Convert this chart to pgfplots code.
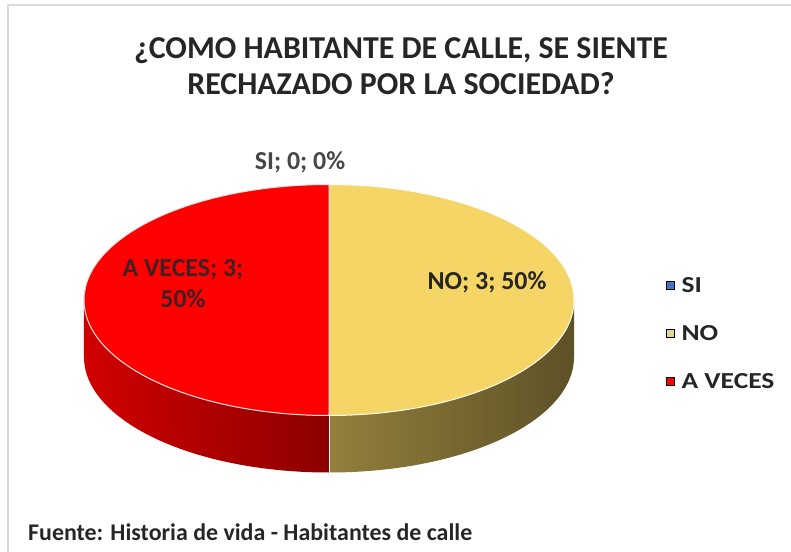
\documentclass[border=0pt]{standalone}
\usepackage{pgfplots}
\usepackage{pgfplotstable}
\pgfplotsset{compat=1.18}
\usepackage{fontspec}
\setmainfont{Carlito}
\newfontfamily\legfont[FakeStretch=1.2]{Carlito}
\definecolor{siblue}{HTML}{4472C4}
\definecolor{noyel}{HTML}{F5D565}
\definecolor{noyelleg}{HTML}{E2D69A}
\definecolor{avred}{HTML}{FF0000}
\definecolor{txt}{HTML}{262626}
\definecolor{frame}{HTML}{D9D9D9}
\pgfplotstableread[col sep=comma]{
label,value
SI,0
NO,3
A VECES,3
}\piedata
\begin{document}
\begin{tikzpicture}
\pgfplotstablegetelem{0}{value}\of\piedata \let\vSI\pgfplotsretval
\pgfplotstablegetelem{1}{value}\of\piedata \let\vNO\pgfplotsretval
\pgfplotstablegetelem{2}{value}\of\piedata \let\vAV\pgfplotsretval
\pgfmathsetmacro{\tot}{\vSI+\vNO+\vAV}
% Excel start at 12 o'clock, clockwise
\pgfmathsetmacro{\aB}{90-360*\vSI/\tot}
\pgfmathsetmacro{\aC}{\aB-360*\vNO/\tot}
\pgfmathsetmacro{\aD}{\aC-360*\vAV/\tot}
\begin{axis}[
  x=1bp, y=1bp,
  xmin=0, xmax=791, ymin=0, ymax=552,
  hide axis, clip=false,
  legend style={at={(axis cs:666,219)}, anchor=west, draw=none, fill=none,
    inner sep=0pt,
    font=\bfseries\legfont\fontsize{23}{27}\selectfont, text=txt,
    nodes={inner sep=2bp, text height=15bp, text depth=0bp},
    row sep=29bp,
    /tikz/every odd column/.append style={column sep=5bp}},
  legend cell align=left,
  legend image code/.code={\fill[#1] (0bp,-4bp) rectangle (8bp,4bp);},
]
% frame lines
\draw[frame, line width=1.5bp] (axis cs:8,0) -- (axis cs:8,547) -- (axis cs:791,547);
% geometry
\def\cx{329}\def\cy{252}\def\rx{245bp}\def\ry{115.5bp}\def\dep{57bp}
% front side of A VECES (180..270)
\shade[left color=red!82!black, right color=red!55!black]
  (axis cs:\cx,\cy) ++(180:{\rx} and {\ry}) arc[start angle=180, end angle=270, x radius=\rx, y radius=\ry]
  -- ++(0,-\dep) arc[start angle=270, end angle=180, x radius=\rx, y radius=\ry] -- cycle;
% front side of NO (270..360)
\shade[left color=noyel!60!black, right color=noyel!38!black]
  (axis cs:\cx,\cy) ++(270:{\rx} and {\ry}) arc[start angle=270, end angle=360, x radius=\rx, y radius=\ry]
  -- ++(0,-\dep) arc[start angle=360, end angle=270, x radius=\rx, y radius=\ry] -- cycle;
\draw[white, line width=1bp] (axis cs:\cx,\cy) ++(0,-\ry) -- ++(0,-\dep);
% top faces
\fill[noyel, draw=white!90!noyel, line width=1bp] (axis cs:\cx,\cy) -- ++(\aB:{\rx} and {\ry})
  arc[start angle=\aB, end angle=\aC, x radius=\rx, y radius=\ry] -- cycle;
\fill[avred, draw=white!90!red, line width=1bp] (axis cs:\cx,\cy) -- ++(\aC:{\rx} and {\ry})
  arc[start angle=\aC, end angle=\aD, x radius=\rx, y radius=\ry] -- cycle;
% legend
\addlegendimage{fill=siblue}
\addlegendentry{SI}
\addlegendimage{fill=noyelleg}
\addlegendentry{NO}
\addlegendimage{fill=avred}
\addlegendentry{A VECES}
% data labels
\node[font=\bfseries\fontsize{26}{31}\selectfont, text=txt!85!white] at (axis cs:300,390) {SI; \vSI; 0\%};
\node[font=\bfseries\fontsize{26}{31}\selectfont, text=txt] at (axis cs:487,270) {NO; \vNO; 50\%};
\node[font=\bfseries\fontsize{26}{31}\selectfont, text=txt!88!red, align=center] at (axis cs:183,268)
  {A VECES; \vAV;\\50\%};
% title
\node[font=\bfseries\fontsize{32}{36}\selectfont, text=txt, align=center] at (axis cs:401,486)
  {¿COMO HABITANTE DE CALLE, SE SIENTE\\RECHAZADO POR LA SOCIEDAD?};
% footer
\node[font=\bfseries\fontsize{24}{28}\selectfont, text=txt, anchor=base west, inner sep=0pt] at (axis cs:28,12)
  {Fuente: Historia de vida - Habitantes de calle};
\end{axis}
\pgfresetboundingbox
\path (0,0) rectangle (791bp,552bp);
\end{tikzpicture}
\end{document}
